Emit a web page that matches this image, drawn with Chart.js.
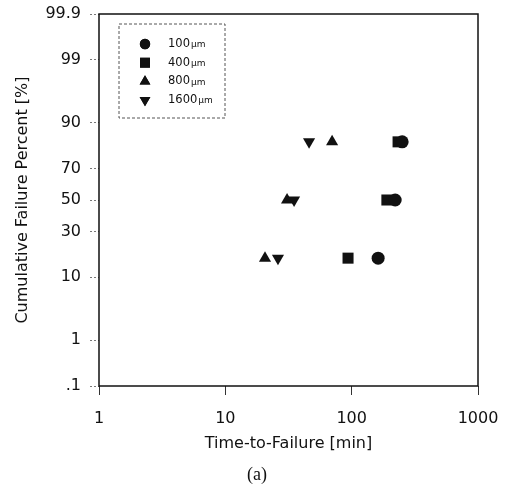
<!DOCTYPE html>
<html>
<head>
<meta charset="utf-8">
<script src="https://cdn.jsdelivr.net/npm/chart.js@4.4.1/dist/chart.umd.min.js"></script>
<style>
   html, body { margin: 0; padding: 0; background: #fff; }
   #wrap { width: 505px; height: 494px; }
</style>
</head>
<body>
<div id="wrap"><canvas id="probChart"></canvas></div>
<script>
// values
const seriesLabels = ['100', '400', '800', '1600'];
const failurePercent = [16.7, 50, 83.3];
const time100 = [162, 221, 251];
const time400 = [93.6, 190, 233];
const time800 = [20.6, 30.8, 70];
const time1600 = [26.1, 35, 46];

const xTickValues = [1, 10, 100, 1000];
const yTickValues = [0.1, 1, 10, 30, 50, 70, 90, 99, 99.9];
const yTickLabels = ['.1', '1', '10', '30', '50', '70', '90', '99', '99.9'];

// inverse normal cdf (Acklam), p in percent
function probit(pct) {
   const p = pct / 100;
   const a = [-39.69683028665376, 220.9460984245205, -275.9285104469687, 138.3577518672690, -30.66479806614716, 2.506628277459239];
   const b = [-54.47609879822406, 161.5858368580409, -155.6989798598866, 66.80131188771972, -13.28068155288572];
   const c = [-0.007784894002430293, -0.3223964580411365, -2.400758277161838, -2.549732539343734, 4.374664141464968, 2.938163982698783];
   const d = [0.007784695709041462, 0.3224671290700398, 2.445134137142996, 3.754408661907416];
   const pl = 0.02425;
   let q, r;
   if (p < pl) {
      q = Math.sqrt(-2 * Math.log(p));
      return (((((c[0] * q + c[1]) * q + c[2]) * q + c[3]) * q + c[4]) * q + c[5]) / ((((d[0] * q + d[1]) * q + d[2]) * q + d[3]) * q + 1);
   }
   if (p > 1 - pl) {
      q = Math.sqrt(-2 * Math.log(1 - p));
      return -(((((c[0] * q + c[1]) * q + c[2]) * q + c[3]) * q + c[4]) * q + c[5]) / ((((d[0] * q + d[1]) * q + d[2]) * q + d[3]) * q + 1);
   }
   q = p - 0.5;
   r = q * q;
   return (((((a[0] * r + a[1]) * r + a[2]) * r + a[3]) * r + a[4]) * r + a[5]) * q / (((((b[0] * r + b[1]) * r + b[2]) * r + b[3]) * r + b[4]) * r + 1);
}

function normCdf(z) {
   const t = 1 / (1 + 0.2316419 * Math.abs(z));
   const k = t * (0.319381530 + t * (-0.356563782 + t * (1.781477937 + t * (-1.821255978 + t * 1.330274429))));
   const v = 1 - Math.exp(-z * z / 2) / Math.sqrt(2 * Math.PI) * k;
   return z >= 0 ? v : 1 - v;
}

// normal probability axis
class ProbitScale extends Chart.Scale {
   parse(raw, index) {
      const v = Chart.LinearScale.prototype.parse.apply(this, [raw, index]);
      return isFinite(v) && v > 0 && v < 100 ? v : null;
   }
   determineDataLimits() {
      this.min = this.options.min;
      this.max = this.options.max;
   }
   buildTicks() {
      return yTickValues.map(v => ({ value: v }));
   }
   configure() {
      super.configure();
      this._zStart = probit(this.min);
      this._zRange = probit(this.max) - this._zStart;
   }
   getPixelForValue(value) {
      return this.getPixelForDecimal((probit(value) - this._zStart) / this._zRange);
   }
   getValueForPixel(pixel) {
      const z = this._zStart + this.getDecimalForPixel(pixel) * this._zRange;
      return normCdf(z) * 100;
   }
   getLabelForValue(value) {
      return value + '%';
   }
}
ProbitScale.id = 'probit';
ProbitScale.defaults = {};
Chart.register(ProbitScale);

function toPoints(times) {
   return times.map((t, i) => ({ x: t, y: failurePercent[i] }));
}

const styles = [
   { pointStyle: 'circle', rotation: 0, radius: 6.5, legendRadius: 5.2 },
   { pointStyle: 'rect', rotation: 0, radius: 7.8, legendRadius: 7 },
   { pointStyle: 'triangle', rotation: 0, radius: 7, legendRadius: 6.2 },
   { pointStyle: 'triangle', rotation: 180, radius: 7, legendRadius: 6.2 }
];
const allTimes = [time100, time400, time800, time1600];

const datasets = allTimes.map((times, i) => ({
   label: seriesLabels[i] + '\u00b5m',
   data: toPoints(times),
   pointStyle: styles[i].pointStyle,
   rotation: styles[i].rotation,
   pointRadius: styles[i].radius,
   pointBackgroundColor: '#111',
   pointBorderColor: '#111',
   pointBorderWidth: 0,
   showLine: false
}));

// box around plot + legend inside it
const frameAndLegend = {
   id: 'frameAndLegend',
   afterDraw(chart) {
      const ctx = chart.ctx;
      const area = chart.chartArea;
      ctx.save();
      ctx.strokeStyle = '#111';
      ctx.lineWidth = 1.5;
      ctx.strokeRect(area.left, area.top, area.right - area.left, area.bottom - area.top);

      const lx = area.left + 20, ly = area.top + 10, lw = 106, lh = 94;
      ctx.lineWidth = 1;
      ctx.strokeStyle = '#555';
      ctx.setLineDash([3, 2]);
      ctx.strokeRect(lx, ly, lw, lh);
      ctx.setLineDash([]);

      ctx.fillStyle = '#111';
      ctx.textBaseline = 'middle';
      datasets.forEach((ds, i) => {
         const y = ly + 20 + i * 18.7;
         Chart.helpers.drawPoint(ctx, {
            pointStyle: styles[i].pointStyle,
            rotation: styles[i].rotation,
            radius: styles[i].legendRadius,
            borderWidth: 0
         }, lx + 26, y);
         ctx.fill();
         ctx.font = '11.5px "DejaVu Sans", sans-serif';
         ctx.fillText(seriesLabels[i], lx + 49, y);
         const w = ctx.measureText(seriesLabels[i]).width;
         ctx.font = '9px "DejaVu Sans", sans-serif';
         ctx.fillText('\u00b5m', lx + 49 + w + 1, y + 1);
      });
      ctx.restore();
   }
};

Chart.defaults.font.family = '"DejaVu Sans", sans-serif';
Chart.defaults.color = '#111';

const ctx = document.getElementById('probChart').getContext('2d');
const probChart = new Chart(ctx, {
   type: 'scatter',
   data: { datasets: datasets },
   options: {
      responsive: true,
      maintainAspectRatio: false,
      animation: false,
      events: [],
      layout: { padding: { left: 9, right: 0, top: 14, bottom: 0 } },
      plugins: {
         legend: { display: false },
         tooltip: { enabled: false },
         title: {
            display: true,
            position: 'bottom',
            text: '(a)',
            color: '#111',
            font: { family: '"Liberation Serif", serif', size: 18, weight: 'normal', lineHeight: 1.2 },
            padding: { top: 0, bottom: 8 }
         }
      },
      scales: {
         x: {
            type: 'logarithmic',
            min: 1,
            max: 1000,
            afterBuildTicks: scale => { scale.ticks = xTickValues.map(v => ({ value: v })); },
            afterFit: scale => {
               scale.height = 78.4;
               scale.paddingLeft = 0;
               scale.paddingRight = 27;
            },
            border: { display: false },
            grid: { drawOnChartArea: false, drawTicks: true, tickLength: 9, tickColor: '#333', tickWidth: 1 },
            ticks: {
               font: { size: 16 },
               padding: 14,
               maxRotation: 0,
               autoSkip: false,
               callback: value => String(value)
            },
            title: {
               display: true,
               text: 'Time-to-Failure [min]',
               font: { size: 16, lineHeight: 1.2 },
               padding: { top: 0, bottom: 11 }
            }
         },
         y: {
            type: 'probit',
            min: 0.1,
            max: 99.9,
            afterFit: scale => {
               scale.width = 90;
               scale.paddingTop = 0;
               scale.paddingBottom = 0;
            },
            border: { display: false },
            grid: { drawOnChartArea: false, drawTicks: true, tickLength: 9, tickColor: '#777', tickWidth: 1, tickBorderDash: [2, 2] },
            ticks: {
               font: { size: 16 },
               padding: 9,
               autoSkip: false,
               callback: (value, i) => yTickLabels[yTickValues.indexOf(value)]
            },
            title: {
               display: true,
               text: 'Cumulative Failure Percent [%]',
               font: { size: 16, lineHeight: 1.2 },
               padding: { top: 4.4, bottom: 0 }
            }
         }
      }
   },
   plugins: [frameAndLegend]
});
</script>
</body>
</html>
